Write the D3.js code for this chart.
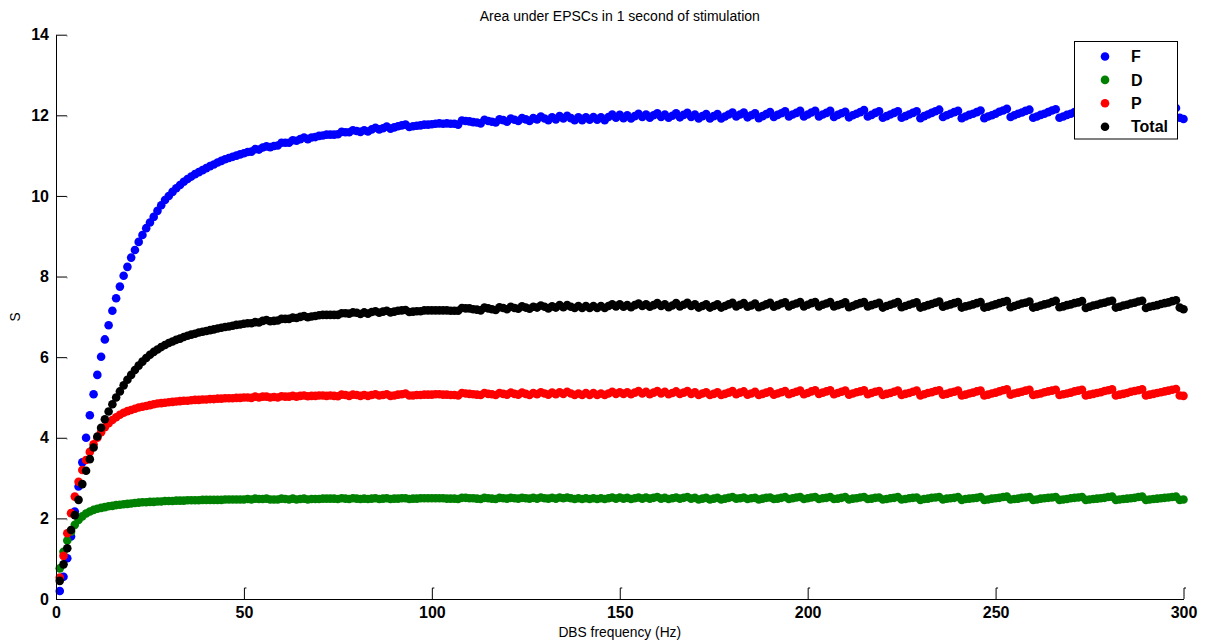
<!DOCTYPE html>
<html>
<head>
<meta charset="utf-8">
<script src="https://cdn.jsdelivr.net/npm/d3@7/dist/d3.min.js"></script>
<style>
  html, body { margin: 0; padding: 0; background: #fff; }
  svg { display: block; }
  text { font-family: "Liberation Sans", Arial, Helvetica, sans-serif; }
</style>
</head>
<body>
<script>
// ---- data ----
const freqHz = d3.range(1, 301); // DBS frequency, 1..300 Hz

const seriesF = [
0.20,0.55,1.01,1.55,2.17,2.79,3.39,4.00,4.56,5.08,
5.56,6.01,6.44,6.79,7.15,7.46,7.75,8.02,8.24,8.47,
8.66,8.86,9.03,9.20,9.34,9.48,9.63,9.77,9.90,10.00,
10.10,10.19,10.27,10.35,10.42,10.48,10.54,10.59,10.64,10.69,
10.74,10.78,10.83,10.87,10.91,10.94,10.97,11.00,11.03,11.06,
11.09,11.10,11.16,11.15,11.20,11.23,11.21,11.24,11.25,11.32,
11.32,11.32,11.38,11.37,11.41,11.45,11.41,11.45,11.46,11.49,
11.50,11.52,11.52,11.52,11.53,11.59,11.58,11.58,11.63,11.61,
11.59,11.63,11.60,11.65,11.69,11.65,11.68,11.72,11.67,11.70,
11.73,11.75,11.77,11.71,11.73,11.74,11.75,11.77,11.77,11.78,
11.79,11.80,11.79,11.80,11.79,11.79,11.77,11.87,11.86,11.85,
11.83,11.82,11.80,11.89,11.86,11.84,11.82,11.90,11.88,11.84,
11.92,11.89,11.86,11.93,11.90,11.86,11.93,11.90,11.97,11.92,
11.88,11.95,11.90,11.98,11.92,11.99,11.93,11.88,11.95,11.88,
11.95,11.89,11.96,11.89,11.95,11.88,11.96,12.02,11.94,12.01,
11.93,12.00,11.92,11.98,12.04,11.96,12.02,11.94,12.00,12.05,
11.96,12.02,11.94,11.99,12.05,11.95,12.01,12.06,11.96,12.02,
11.92,11.98,12.03,11.92,11.98,12.03,11.92,11.97,12.02,12.07,
11.97,12.02,12.07,11.95,12.00,12.05,11.93,11.98,12.03,12.08,
11.96,12.01,12.05,12.10,11.97,12.02,12.06,12.11,11.97,12.02,
12.07,12.11,11.97,12.02,12.06,12.11,11.96,12.01,12.05,12.09,
11.95,12.00,12.04,12.08,12.13,11.97,12.01,12.06,12.10,11.94,
11.98,12.02,12.06,12.10,11.94,11.98,12.02,12.06,12.10,11.93,
11.98,12.02,12.06,12.10,12.14,11.96,12.00,12.04,12.08,12.11,
11.93,11.97,12.01,12.04,12.08,12.12,11.93,11.97,12.00,12.04,
12.09,12.12,12.16,11.96,12.00,12.04,12.07,12.11,12.14,11.94,
11.97,12.01,12.04,12.08,12.12,12.15,11.94,11.97,12.01,12.04,
12.08,12.11,12.14,11.92,11.96,11.99,12.02,12.06,12.09,12.12,
12.17,11.94,11.97,12.00,12.04,12.07,12.10,12.13,12.17,11.93,
11.96,11.99,12.02,12.06,12.09,12.12,12.15,12.18,11.94,11.91
];

const seriesD = [
0.76,1.17,1.45,1.67,1.84,1.96,2.05,2.12,2.17,2.21,
2.24,2.26,2.28,2.30,2.31,2.33,2.34,2.35,2.36,2.37,
2.38,2.39,2.40,2.40,2.41,2.41,2.42,2.42,2.43,2.43,
2.43,2.44,2.44,2.44,2.45,2.45,2.45,2.45,2.46,2.46,
2.46,2.46,2.46,2.46,2.47,2.47,2.47,2.47,2.47,2.47,
2.48,2.47,2.49,2.48,2.48,2.49,2.47,2.47,2.47,2.49,
2.48,2.47,2.49,2.47,2.48,2.49,2.47,2.48,2.48,2.48,
2.49,2.49,2.49,2.49,2.48,2.50,2.49,2.48,2.50,2.49,
2.48,2.49,2.48,2.49,2.50,2.48,2.49,2.50,2.48,2.49,
2.49,2.50,2.50,2.48,2.49,2.49,2.50,2.50,2.50,2.50,
2.50,2.50,2.50,2.49,2.49,2.49,2.48,2.51,2.51,2.50,
2.50,2.49,2.48,2.51,2.50,2.49,2.48,2.51,2.50,2.49,
2.51,2.50,2.49,2.51,2.50,2.49,2.51,2.49,2.52,2.50,
2.49,2.51,2.49,2.52,2.50,2.52,2.50,2.48,2.50,2.48,
2.50,2.48,2.50,2.48,2.50,2.48,2.50,2.52,2.49,2.52,
2.49,2.51,2.48,2.50,2.52,2.49,2.52,2.49,2.51,2.53,
2.49,2.51,2.48,2.50,2.52,2.49,2.51,2.53,2.49,2.51,
2.47,2.49,2.51,2.47,2.49,2.51,2.47,2.49,2.51,2.53,
2.49,2.50,2.52,2.48,2.50,2.51,2.47,2.49,2.51,2.52,
2.48,2.49,2.51,2.53,2.48,2.50,2.52,2.53,2.48,2.50,
2.52,2.53,2.48,2.50,2.51,2.53,2.48,2.49,2.51,2.53,
2.47,2.49,2.50,2.52,2.53,2.48,2.49,2.51,2.52,2.47,
2.48,2.50,2.51,2.53,2.47,2.48,2.50,2.51,2.52,2.46,
2.48,2.49,2.51,2.52,2.53,2.47,2.49,2.50,2.51,2.53,
2.46,2.48,2.49,2.50,2.51,2.53,2.46,2.47,2.49,2.50,
2.51,2.53,2.54,2.47,2.48,2.49,2.51,2.52,2.53,2.46,
2.47,2.49,2.50,2.51,2.52,2.53,2.46,2.47,2.48,2.50,
2.51,2.52,2.53,2.46,2.47,2.48,2.49,2.50,2.51,2.53,
2.54,2.46,2.47,2.48,2.49,2.50,2.51,2.53,2.54,2.46,
2.47,2.48,2.49,2.50,2.51,2.52,2.53,2.54,2.46,2.47
];

const seriesP = [
0.53,1.07,1.63,2.13,2.54,2.91,3.20,3.45,3.65,3.84,
4.00,4.14,4.26,4.36,4.44,4.51,4.57,4.62,4.66,4.69,
4.72,4.75,4.77,4.79,4.81,4.83,4.85,4.86,4.87,4.88,
4.89,4.90,4.91,4.92,4.92,4.93,4.94,4.94,4.95,4.95,
4.96,4.96,4.97,4.97,4.98,4.98,4.98,4.99,4.99,5.00,
5.00,4.99,5.02,5.00,5.02,5.02,5.00,5.01,5.00,5.03,
5.02,5.02,5.04,5.02,5.04,5.05,5.03,5.04,5.04,5.05,
5.05,5.04,5.05,5.04,5.03,5.07,5.06,5.04,5.07,5.06,
5.04,5.06,5.04,5.06,5.08,5.05,5.06,5.08,5.04,5.05,
5.07,5.08,5.10,5.05,5.05,5.06,5.06,5.07,5.07,5.07,
5.08,5.08,5.07,5.07,5.06,5.06,5.05,5.11,5.10,5.09,
5.08,5.07,5.06,5.11,5.09,5.08,5.06,5.11,5.09,5.07,
5.12,5.09,5.07,5.12,5.09,5.06,5.11,5.08,5.13,5.10,
5.07,5.12,5.08,5.13,5.09,5.14,5.10,5.06,5.10,5.06,
5.11,5.06,5.11,5.06,5.10,5.06,5.10,5.14,5.09,5.13,
5.09,5.13,5.08,5.12,5.16,5.10,5.14,5.08,5.12,5.16,
5.10,5.14,5.08,5.11,5.15,5.09,5.12,5.16,5.09,5.13,
5.06,5.10,5.13,5.06,5.09,5.13,5.06,5.09,5.12,5.16,
5.08,5.12,5.15,5.07,5.10,5.14,5.06,5.09,5.12,5.15,
5.07,5.10,5.13,5.16,5.08,5.11,5.14,5.17,5.08,5.11,
5.15,5.18,5.09,5.12,5.15,5.18,5.08,5.11,5.14,5.17,
5.07,5.10,5.13,5.15,5.18,5.08,5.11,5.14,5.16,5.06,
5.09,5.11,5.14,5.17,5.06,5.09,5.11,5.14,5.17,5.05,
5.08,5.11,5.13,5.16,5.18,5.07,5.09,5.12,5.14,5.17,
5.05,5.07,5.10,5.12,5.15,5.17,5.05,5.07,5.10,5.12,
5.15,5.18,5.20,5.07,5.10,5.12,5.14,5.17,5.19,5.06,
5.08,5.10,5.13,5.15,5.17,5.19,5.06,5.08,5.10,5.12,
5.15,5.17,5.19,5.05,5.07,5.09,5.11,5.13,5.16,5.18,
5.20,5.05,5.07,5.09,5.11,5.14,5.16,5.18,5.20,5.05,
5.07,5.09,5.11,5.13,5.15,5.17,5.19,5.21,5.05,5.04
];

const seriesTotal = [
0.45,0.86,1.26,1.71,2.08,2.46,2.85,3.18,3.47,3.76,
4.03,4.25,4.46,4.65,4.83,5.00,5.15,5.30,5.44,5.56,
5.68,5.79,5.89,5.98,6.06,6.13,6.19,6.25,6.30,6.35,
6.39,6.43,6.46,6.50,6.53,6.56,6.58,6.61,6.63,6.65,
6.67,6.69,6.71,6.73,6.75,6.76,6.78,6.80,6.81,6.83,
6.84,6.84,6.87,6.86,6.90,6.92,6.89,6.90,6.91,6.95,
6.95,6.95,6.98,6.97,7.00,7.02,6.99,7.01,7.02,7.04,
7.05,7.05,7.05,7.05,7.05,7.09,7.09,7.08,7.11,7.10,
7.07,7.11,7.08,7.12,7.14,7.10,7.13,7.15,7.11,7.13,
7.15,7.16,7.17,7.12,7.13,7.14,7.14,7.16,7.16,7.16,
7.16,7.16,7.16,7.16,7.15,7.15,7.15,7.22,7.21,7.21,
7.19,7.18,7.16,7.23,7.21,7.19,7.17,7.24,7.22,7.19,
7.25,7.22,7.20,7.26,7.23,7.20,7.25,7.23,7.28,7.25,
7.21,7.26,7.23,7.29,7.24,7.29,7.25,7.22,7.27,7.22,
7.27,7.22,7.27,7.22,7.27,7.22,7.27,7.31,7.26,7.31,
7.25,7.29,7.24,7.29,7.33,7.27,7.31,7.25,7.29,7.34,
7.27,7.31,7.24,7.28,7.34,7.26,7.30,7.35,7.27,7.31,
7.23,7.27,7.31,7.23,7.27,7.31,7.23,7.27,7.31,7.35,
7.26,7.30,7.34,7.25,7.28,7.33,7.24,7.27,7.31,7.35,
7.25,7.29,7.33,7.36,7.26,7.30,7.33,7.37,7.26,7.30,
7.34,7.37,7.26,7.30,7.33,7.37,7.26,7.29,7.32,7.36,
7.24,7.27,7.31,7.34,7.37,7.26,7.29,7.32,7.35,7.23,
7.27,7.30,7.33,7.37,7.24,7.27,7.30,7.33,7.36,7.23,
7.26,7.29,7.32,7.35,7.38,7.25,7.28,7.31,7.34,7.37,
7.23,7.26,7.28,7.31,7.34,7.37,7.23,7.25,7.28,7.31,
7.34,7.37,7.39,7.24,7.27,7.30,7.33,7.35,7.38,7.23,
7.25,7.28,7.31,7.33,7.37,7.40,7.24,7.26,7.29,7.31,
7.34,7.36,7.39,7.22,7.25,7.28,7.30,7.33,7.35,7.38,
7.40,7.23,7.25,7.28,7.30,7.33,7.35,7.38,7.40,7.22,
7.25,7.27,7.29,7.32,7.34,7.36,7.39,7.41,7.23,7.19
];

const seriesNames = ["F", "D", "P", "Total"];
const seriesColors = ["#0000ff", "#008000", "#ff0000", "#000000"];
const xTicks = [0, 50, 100, 150, 200, 250, 300];
const yTicks = [0, 2, 4, 6, 8, 10, 12, 14];
const titleText = "Area under EPSCs in 1 second of stimulation";
const xLabel = "DBS frequency (Hz)";
const yLabel = "S";

// ---- drawing ----
const W = 1216, H = 644;
const svg = d3.select("body").append("svg").attr("width", W).attr("height", H);
svg.append("rect").attr("width", W).attr("height", H).attr("fill", "#fff");

const x = d3.scaleLinear().domain([0, 300]).range([56, 1183.5]);
const y = d3.scaleLinear().domain([0, 14]).range([599, 34.7]);

const allSeries = [seriesF, seriesD, seriesP, seriesTotal];

// points (plot order F, D, P, Total)
allSeries.forEach((vals, si) => {
  svg.append("g")
    .attr("fill", seriesColors[si])
    .selectAll("circle")
    .data(freqHz.map((f, i) => [f, vals[i]]))
    .join("circle")
    .attr("cx", d => x(d[0]))
    .attr("cy", d => y(d[1]))
    .attr("r", 4.3);
});

// axes
const yAxis = d3.axisLeft(y).tickValues(yTicks).tickFormat(d3.format("d"))
  .tickSize(-11).tickSizeOuter(0).tickPadding(7);
const xAxis = d3.axisBottom(x).tickValues(xTicks).tickFormat(d3.format("d"))
  .tickSize(-11).tickSizeOuter(0).tickPadding(8);

const gy = svg.append("g").attr("transform", `translate(${x(0)},0)`).call(yAxis);
const gx = svg.append("g").attr("transform", `translate(0,${y(0)})`).call(xAxis);

[gx, gy].forEach(g => {
  g.select(".domain").attr("stroke", "#000").attr("stroke-width", 1);
  g.selectAll(".tick line").attr("stroke", "#000").attr("stroke-width", 1);
  g.selectAll(".tick text")
    .attr("fill", "#000")
    .style("font-family", '"Liberation Sans", Arial, sans-serif')
    .style("font-size", "16px")
    .style("font-weight", "bold");
});
// small serifs at the tick ends (MATLAB-style)
gx.selectAll(".tick").filter(d => d !== 0).append("line")
  .attr("x1", 0).attr("x2", 2).attr("y1", -11).attr("y2", -11)
  .attr("stroke", "#000").attr("stroke-width", 1);
gy.selectAll(".tick").filter(d => d !== 0).append("line")
  .attr("x1", 11).attr("x2", 11).attr("y1", 0).attr("y2", 1.5)
  .attr("stroke", "#888").attr("stroke-width", 1);

// title and labels
svg.append("text")
  .attr("x", (x(0) + x(300)) / 2).attr("y", 21)
  .attr("text-anchor", "middle")
  .style("font-size", "14px")
  .text(titleText);

svg.append("text")
  .attr("x", (x(0) + x(300)) / 2).attr("y", 637)
  .attr("text-anchor", "middle")
  .style("font-size", "13.8px")
  .text(xLabel);

svg.append("text")
  .attr("transform", `translate(20,${(y(0) + y(14)) / 2}) rotate(-90)`)
  .attr("text-anchor", "middle")
  .style("font-size", "13.8px")
  .text(yLabel);

// legend
const lg = svg.append("g");
lg.append("rect")
  .attr("x", 1074.5).attr("y", 41.5).attr("width", 103).attr("height", 97.5)
  .attr("fill", "#fff").attr("stroke", "#000").attr("stroke-width", 1);
seriesNames.forEach((name, i) => {
  const cy = 56.5 + i * 23.4;
  lg.append("circle").attr("cx", 1105).attr("cy", cy).attr("r", 4.3)
    .attr("fill", seriesColors[i]);
  lg.append("text").attr("x", 1131).attr("y", cy)
    .attr("dy", "0.35em")
    .style("font-size", "16px").style("font-weight", "bold")
    .text(name);
});
</script>
</body>
</html>
